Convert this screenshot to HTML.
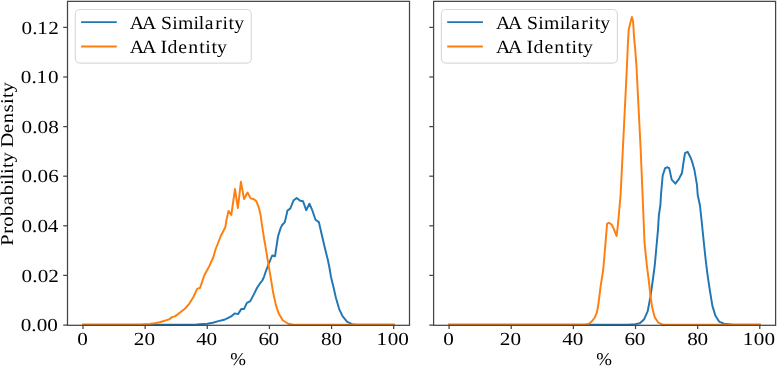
<!DOCTYPE html><html><head><meta charset="utf-8"><style>html,body{margin:0;padding:0;background:#fff;overflow:hidden;}svg{display:block;will-change:transform;}text{font-family:"Liberation Serif",serif;fill:#000;text-rendering:geometricPrecision;}</style></head><body>
<svg width="777" height="366" viewBox="0 0 777 366">
<rect width="777" height="366" fill="#fff"/>
<polyline points="83.0,324.7 185.0,324.7 196.4,324.4 207.3,323.7 212.8,322.8 218.3,321.1 222.0,320.3 225.0,319.5 227.7,318.1 231.1,316.4 234.6,313.4 238.0,314.1 241.4,308.9 244.1,308.9 246.9,302.8 250.3,301.1 253.7,294.6 257.1,287.8 259.8,283.7 262.3,280.5 264.0,276.8 265.7,271.7 268.9,263.5 272.2,255.5 275.0,256.3 278.0,236.5 280.2,229.4 281.8,225.5 284.8,222.1 287.5,210.5 290.2,208.6 293.7,200.2 296.7,197.9 300.2,200.7 303.0,201.2 306.2,210.2 309.4,203.7 312.1,209.8 315.5,219.8 318.9,222.1 320.9,231.0 323.0,240.0 325.3,249.8 327.8,259.7 329.3,267.0 331.0,276.9 333.4,286.7 335.9,297.8 339.1,308.8 342.5,316.2 347.0,321.6 351.9,324.1 356.8,324.7 393.7,324.7" fill="none" stroke="#1f77b4" stroke-width="1.95" stroke-linejoin="round" stroke-linecap="square"/>
<polyline points="83.0,324.7 140.0,324.7 149.8,324.0 154.7,323.3 159.7,322.2 164.6,320.8 169.5,319.1 172.4,316.9 174.9,316.4 177.4,314.6 181.3,311.6 185.2,308.5 189.2,303.8 193.1,297.6 195.5,292.5 197.3,288.6 200.0,288.0 202.2,281.6 204.2,275.5 209.3,266.2 213.4,257.0 215.5,249.5 220.6,236.5 225.3,227.3 226.6,219.5 228.5,210.9 231.3,215.0 235.0,189.1 237.9,208.0 240.9,181.8 244.1,199.0 247.5,192.5 250.7,198.4 253.9,199.3 256.4,201.3 258.9,207.9 260.5,214.4 262.1,225.9 264.3,240.0 265.0,243.7 267.7,260.0 270.5,276.4 273.2,292.8 275.9,305.1 278.6,313.3 282.7,320.2 288.2,323.7 293.6,324.7 393.7,324.7" fill="none" stroke="#ff7f0e" stroke-width="1.95" stroke-linejoin="round" stroke-linecap="square"/>
<rect x="67.5" y="1.35" width="342.00" height="323.95" fill="none" stroke="#444" stroke-width="1.25"/>
<line x1="63.20" y1="325.10" x2="67.50" y2="325.10" stroke="#444" stroke-width="1.25"/>
<line x1="63.20" y1="275.40" x2="67.50" y2="275.40" stroke="#444" stroke-width="1.25"/>
<line x1="63.20" y1="225.80" x2="67.50" y2="225.80" stroke="#444" stroke-width="1.25"/>
<line x1="63.20" y1="176.20" x2="67.50" y2="176.20" stroke="#444" stroke-width="1.25"/>
<line x1="63.20" y1="126.60" x2="67.50" y2="126.60" stroke="#444" stroke-width="1.25"/>
<line x1="63.20" y1="77.00" x2="67.50" y2="77.00" stroke="#444" stroke-width="1.25"/>
<line x1="63.20" y1="27.40" x2="67.50" y2="27.40" stroke="#444" stroke-width="1.25"/>
<line x1="83.00" y1="325.30" x2="83.00" y2="329.10" stroke="#444" stroke-width="1.25"/>
<line x1="145.14" y1="325.30" x2="145.14" y2="329.10" stroke="#444" stroke-width="1.25"/>
<line x1="207.28" y1="325.30" x2="207.28" y2="329.10" stroke="#444" stroke-width="1.25"/>
<line x1="269.42" y1="325.30" x2="269.42" y2="329.10" stroke="#444" stroke-width="1.25"/>
<line x1="331.56" y1="325.30" x2="331.56" y2="329.10" stroke="#444" stroke-width="1.25"/>
<line x1="393.70" y1="325.30" x2="393.70" y2="329.10" stroke="#444" stroke-width="1.25"/>
<rect x="75.30" y="9.5" width="176.00" height="53.60" rx="4.5" ry="4.5" fill="#fff" fill-opacity="0.8" stroke="#dadada" stroke-width="1.2"/>
<line x1="81.10" y1="22.1" x2="116.80" y2="22.1" stroke="#1f77b4" stroke-width="1.85"/>
<line x1="81.10" y1="46.45" x2="116.80" y2="46.45" stroke="#ff7f0e" stroke-width="1.85"/>
<text transform="translate(0,28.80) scale(1.0559,1)" x="122.99 134.52 152.43 163.11 168.48 183.34 188.33 194.02 203.89 210.69 216.47 221.82" font-size="18.7">AASimilarity</text>
<text transform="translate(0,52.55) scale(1.0593,1)" x="122.55 133.98 151.48 158.04 168.36 177.66 188.16 193.84 199.58 204.87" font-size="18.7">AAIdentity</text>
<text transform="translate(0,344.90) scale(1.1500,1)" x="67.10" font-size="18.4">0</text>
<text transform="translate(0,344.90) scale(1.1500,1)" x="116.24 125.56" font-size="18.4">20</text>
<text transform="translate(0,344.90) scale(1.1500,1)" x="170.58 179.60" font-size="18.4">40</text>
<text transform="translate(0,344.90) scale(1.1500,1)" x="224.72 233.56" font-size="18.4">60</text>
<text transform="translate(0,344.90) scale(1.1500,1)" x="279.15 288.27" font-size="18.4">80</text>
<text transform="translate(0,344.90) scale(1.1500,1)" x="327.47 337.14 346.39" font-size="18.4">100</text>
<text transform="translate(0,364.90) scale(1.0473,1)" x="219.76" font-size="18.0">%</text>
<polyline points="449.1,324.7 628.0,324.7 635.3,324.1 639.8,323.3 644.2,319.2 647.7,311.2 650.4,297.0 652.7,281.0 654.8,265.0 658.0,229.6 658.9,215.0 660.4,205.0 661.0,194.3 662.7,175.5 665.1,168.1 667.6,167.3 669.2,168.1 671.7,179.6 675.4,183.7 679.0,178.8 682.0,173.0 683.4,163.0 685.0,153.1 687.6,151.8 690.4,157.2 692.0,161.3 694.5,170.3 697.0,185.1 697.7,195.0 700.0,205.7 701.7,221.6 703.5,239.4 705.7,260.0 707.6,275.3 709.9,290.6 712.4,305.9 715.3,315.4 719.1,321.6 723.9,323.7 728.7,324.2 733.0,324.7 759.8,324.7" fill="none" stroke="#1f77b4" stroke-width="1.95" stroke-linejoin="round" stroke-linecap="square"/>
<polyline points="449.1,324.7 585.0,324.7 589.1,323.8 592.4,320.8 594.8,317.5 596.8,312.6 598.1,306.1 599.4,296.2 600.6,286.4 601.9,278.2 603.2,270.0 604.5,255.0 605.8,239.3 607.1,223.7 609.1,222.9 611.6,224.5 614.0,229.4 616.5,236.0 617.6,227.8 619.0,213.0 620.6,195.0 627.0,65.0 627.8,46.0 628.7,29.6 630.3,23.0 631.9,17.0 633.1,21.4 634.1,37.8 635.2,49.3 636.4,65.0 640.7,150.0 643.0,205.0 644.5,242.7 646.8,265.0 648.6,279.2 650.4,295.2 652.2,307.6 654.8,317.4 658.4,322.7 662.8,324.7 759.8,324.7" fill="none" stroke="#ff7f0e" stroke-width="1.95" stroke-linejoin="round" stroke-linecap="square"/>
<rect x="433.6" y="1.35" width="342.00" height="323.95" fill="none" stroke="#444" stroke-width="1.25"/>
<line x1="429.30" y1="325.10" x2="433.60" y2="325.10" stroke="#444" stroke-width="1.25"/>
<line x1="429.30" y1="275.40" x2="433.60" y2="275.40" stroke="#444" stroke-width="1.25"/>
<line x1="429.30" y1="225.80" x2="433.60" y2="225.80" stroke="#444" stroke-width="1.25"/>
<line x1="429.30" y1="176.20" x2="433.60" y2="176.20" stroke="#444" stroke-width="1.25"/>
<line x1="429.30" y1="126.60" x2="433.60" y2="126.60" stroke="#444" stroke-width="1.25"/>
<line x1="429.30" y1="77.00" x2="433.60" y2="77.00" stroke="#444" stroke-width="1.25"/>
<line x1="429.30" y1="27.40" x2="433.60" y2="27.40" stroke="#444" stroke-width="1.25"/>
<line x1="449.10" y1="325.30" x2="449.10" y2="329.10" stroke="#444" stroke-width="1.25"/>
<line x1="511.24" y1="325.30" x2="511.24" y2="329.10" stroke="#444" stroke-width="1.25"/>
<line x1="573.38" y1="325.30" x2="573.38" y2="329.10" stroke="#444" stroke-width="1.25"/>
<line x1="635.52" y1="325.30" x2="635.52" y2="329.10" stroke="#444" stroke-width="1.25"/>
<line x1="697.66" y1="325.30" x2="697.66" y2="329.10" stroke="#444" stroke-width="1.25"/>
<line x1="759.80" y1="325.30" x2="759.80" y2="329.10" stroke="#444" stroke-width="1.25"/>
<rect x="441.40" y="9.5" width="176.00" height="53.60" rx="4.5" ry="4.5" fill="#fff" fill-opacity="0.8" stroke="#dadada" stroke-width="1.2"/>
<line x1="447.20" y1="22.1" x2="482.90" y2="22.1" stroke="#1f77b4" stroke-width="1.85"/>
<line x1="447.20" y1="46.45" x2="482.90" y2="46.45" stroke="#ff7f0e" stroke-width="1.85"/>
<text transform="translate(0,28.80) scale(1.0559,1)" x="469.71 481.23 499.15 509.83 515.19 530.06 535.04 540.73 550.60 557.40 563.18 568.54" font-size="18.7">AASimilarity</text>
<text transform="translate(0,52.55) scale(1.0593,1)" x="468.14 479.57 497.07 503.63 513.95 523.26 533.75 539.44 545.17 550.47" font-size="18.7">AAIdentity</text>
<text transform="translate(0,344.90) scale(1.1500,1)" x="385.45" font-size="18.4">0</text>
<text transform="translate(0,344.90) scale(1.1500,1)" x="434.59 443.91" font-size="18.4">20</text>
<text transform="translate(0,344.90) scale(1.1500,1)" x="488.93 497.95" font-size="18.4">40</text>
<text transform="translate(0,344.90) scale(1.1500,1)" x="543.07 551.90" font-size="18.4">60</text>
<text transform="translate(0,344.90) scale(1.1500,1)" x="597.50 606.62" font-size="18.4">80</text>
<text transform="translate(0,344.90) scale(1.1500,1)" x="645.81 655.48 664.74" font-size="18.4">100</text>
<text transform="translate(0,364.90) scale(1.0473,1)" x="569.33" font-size="18.0">%</text>
<text transform="translate(0,331.10) scale(1.1500,1)" x="17.99 27.27 31.90 41.17" font-size="18.4">0.00</text>
<text transform="translate(0,281.50) scale(1.1500,1)" x="18.66 28.05 32.79 42.06" font-size="18.4">0.02</text>
<text transform="translate(0,231.90) scale(1.1500,1)" x="18.60 27.90 32.53 41.63" font-size="18.4">0.04</text>
<text transform="translate(0,182.30) scale(1.1500,1)" x="18.62 27.95 32.62 41.86" font-size="18.4">0.06</text>
<text transform="translate(0,132.70) scale(1.1500,1)" x="18.63 27.97 32.66 42.01" font-size="18.4">0.08</text>
<text transform="translate(0,83.10) scale(1.1500,1)" x="18.06 27.48 31.83 41.71" font-size="18.4">0.10</text>
<text transform="translate(0,33.50) scale(1.1500,1)" x="18.66 28.05 32.37 42.06" font-size="18.4">0.12</text>
<text transform="translate(12.80,0) rotate(-90) scale(1.1383,1)" x="-215.92 -205.44 -199.16 -189.74 -180.32 -171.43 -162.44 -157.79 -152.97 -147.58 -142.70 -129.62 -116.94 -108.27 -98.72 -91.44 -86.04 -81.16" font-size="18.0">ProbabilityDensity</text>
</svg></body></html>
